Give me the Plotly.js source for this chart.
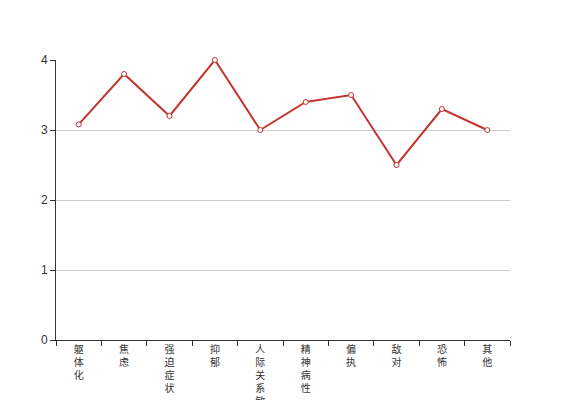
<!DOCTYPE html>
<html>
<head>
<meta charset="utf-8">
<script src="https://cdn.plot.ly/plotly-3.0.1.min.js"></script>
<style>html,body{margin:0;padding:0;background:#fff;}#chart{width:567px;height:400px;}</style>
</head>
<body>
<div id="chart"></div>
<script>
const categories = ["躯体化", "焦虑", "强迫症状", "抑郁", "人际关系敏感", "精神病性", "偏执", "敌对", "恐怖", "其他"];
const values = [3.08, 3.8, 3.2, 4.0, 3.0, 3.4, 3.5, 2.5, 3.3, 3.0];
const yTicks = [0, 1, 2, 3, 4];

const verticalLabels = categories.map(c => Array.from(c).join("<br>"));

const trace = {
  type: "scatter",
  mode: "lines+markers",
  x: categories,
  y: values,
  line: {color: "#c23531", width: 2},
  marker: {symbol: "circle", size: 5, color: "#ffffff", line: {color: "#c23531", width: 1}},
  cliponaxis: false,
  hoverinfo: "x+y"
};

const layout = {
  width: 567,
  height: 400,
  margin: {l: 56, r: 57, t: 60, b: 60, autoexpand: false},
  paper_bgcolor: "#ffffff",
  plot_bgcolor: "#ffffff",
  showlegend: false,
  font: {family: "'Liberation Sans', 'Noto Sans CJK SC', sans-serif", color: "#333", size: 12},
  xaxis: {
    type: "category",
    range: [-0.5, categories.length - 0.5],
    autorange: false,
    tickmode: "array",
    tickvals: categories,
    ticktext: verticalLabels,
    tickson: "boundaries",
    ticks: "outside",
    ticklen: 5,
    tickcolor: "#333",
    tickangle: 0,
    showline: true,
    linecolor: "#333",
    linewidth: 1,
    showgrid: false,
    zeroline: false,
    automargin: false,
    tickfont: {family: "'Noto Sans CJK SC', sans-serif", size: 10, color: "#333"},
    fixedrange: true
  },
  yaxis: {
    range: [0, 4],
    autorange: false,
    tickmode: "array",
    tickvals: yTicks,
    ticks: "outside",
    ticklen: 5,
    tickcolor: "#333",
    showline: true,
    linecolor: "#333",
    linewidth: 1,
    showgrid: true,
    gridcolor: "#ccc",
    gridwidth: 1,
    zeroline: false,
    automargin: false,
    tickfont: {size: 12, color: "#333"},
    fixedrange: true
  }
};

Plotly.newPlot("chart", [trace], layout, {displayModeBar: false, staticPlot: true});
</script>
</body>
</html>
